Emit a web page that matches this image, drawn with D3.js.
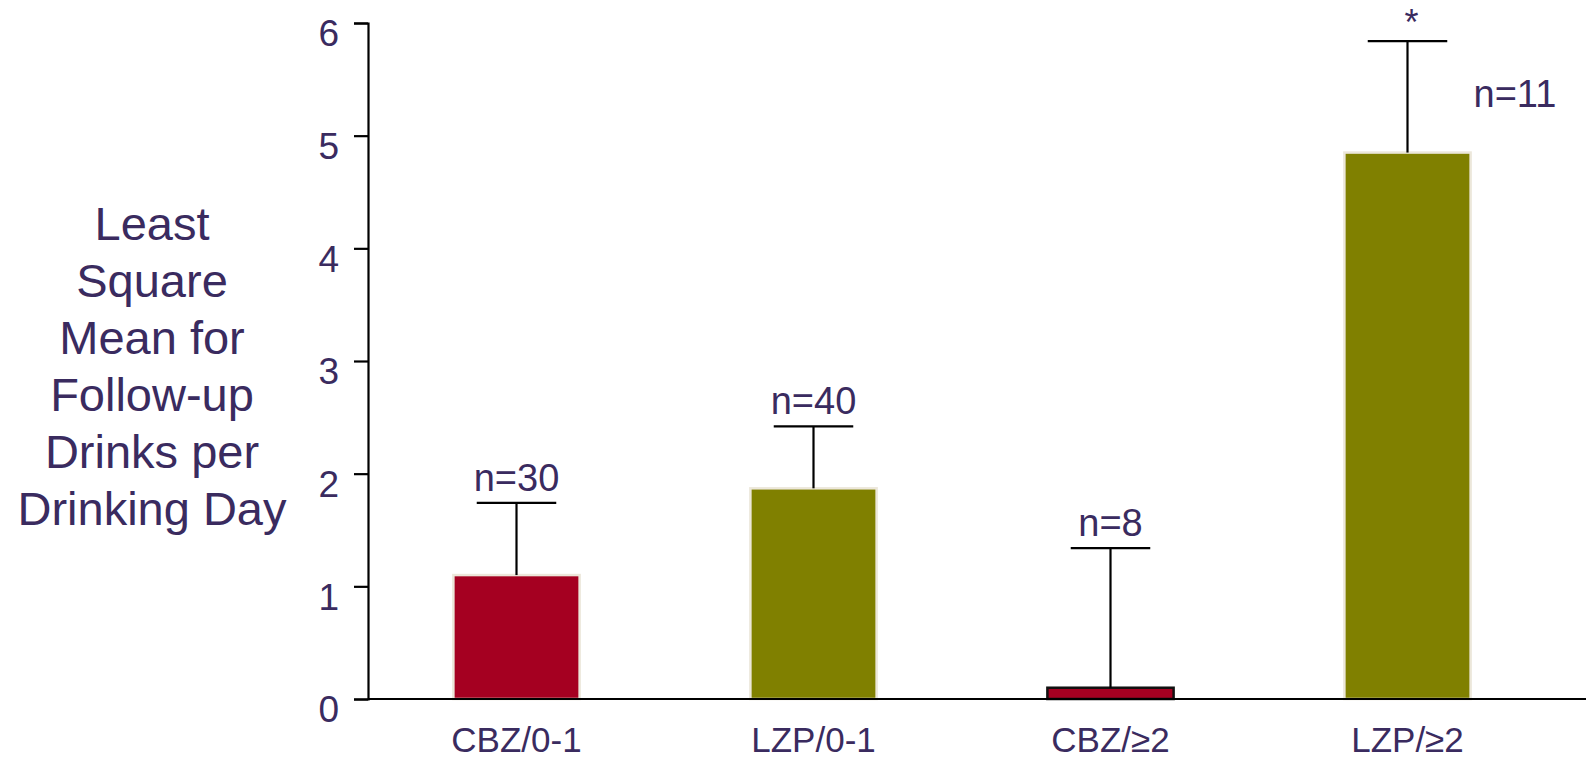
<!DOCTYPE html>
<html>
<head>
<meta charset="utf-8">
<script src="https://cdn.jsdelivr.net/npm/d3@7"></script>
<style>
  html, body { margin: 0; padding: 0; background: #ffffff; }
  svg { display: block; font-family: Arial, "Liberation Sans", sans-serif; }
</style>
</head>
<body>
<svg id="chart" width="1588" height="761"></svg>
<script>
// Groups: drug / number of prior withdrawals
const categories = ["CBZ/0-1", "LZP/0-1", "CBZ/\u22652", "LZP/\u22652"];
// Least square means of follow-up drinks per drinking day
const means = [1.10, 1.87, 0.10, 4.85];
// Upper error bar length (added on top of each mean)
const errors = [0.64, 0.55, 1.24, 0.99];
// Sample size labels
const sampleLabels = ["n=30", "n=40", "n=8", "n=11"];
// Drug of each group (sets the bar colour)
const drugs = ["CBZ", "LZP", "CBZ", "LZP"];
const yTicks = [0, 1, 2, 3, 4, 5, 6];
const yTitleLines = ["Least", "Square", "Mean for", "Follow-up", "Drinks per", "Drinking Day"];

const textColor = "#3a2b5f";
const fillByDrug = { CBZ: "#a50021", LZP: "#808000" };

const svg = d3.select("#chart");

const x = d3.scaleBand()
  .domain(categories)
  .range([368, 1556])
  .paddingInner(0.575)
  .paddingOuter(0.2875);

const y = d3.scaleLinear().domain([0, 6]).range([699, 23]);

// Bars
svg.append("g").selectAll("rect")
  .data(categories)
  .join("rect")
  .attr("x", (d) => x(d))
  .attr("y", (d, i) => y(means[i]))
  .attr("width", x.bandwidth())
  .attr("height", (d, i) => y(0) - y(means[i]))
  .attr("fill", (d, i) => fillByDrug[drugs[i]])
  .attr("stroke", (d, i) => means[i] < 0.5 ? "#111111" : "#ece7da")
  .attr("stroke-width", 2.5);

// Error bars (upper only)
const capHalf = x.bandwidth() * 0.315;
const eb = svg.append("g").attr("stroke", "#000").attr("stroke-width", 2.2);
categories.forEach((c, i) => {
  const cx = x(c) + x.bandwidth() / 2;
  eb.append("line")
    .attr("x1", cx).attr("x2", cx)
    .attr("y1", y(means[i])).attr("y2", y(means[i] + errors[i]));
  eb.append("line")
    .attr("x1", cx - capHalf).attr("x2", cx + capHalf)
    .attr("y1", y(means[i] + errors[i])).attr("y2", y(means[i] + errors[i]));
});

// Sample size labels: above the cap, except the tallest bar where it sits to the right
const labels = svg.append("g")
  .attr("fill", textColor)
  .attr("font-size", 38);
categories.forEach((c, i) => {
  const cx = x(c) + x.bandwidth() / 2;
  const top = y(means[i] + errors[i]);
  if (i === 3) {
    labels.append("text")
      .attr("x", cx + 66).attr("y", 107)
      .text(sampleLabels[i]);
    labels.append("text")
      .attr("x", cx + 4).attr("y", top - 6)
      .attr("font-size", 36)
      .attr("text-anchor", "middle")
      .text("*");
  } else {
    labels.append("text")
      .attr("x", cx).attr("y", top - 12)
      .attr("text-anchor", "middle")
      .text(sampleLabels[i]);
  }
});

// Y axis
const yAxis = svg.append("g")
  .attr("transform", "translate(368,0)")
  .call(d3.axisLeft(y).tickValues(yTicks).tickSize(14).tickPadding(15).tickFormat(d3.format("d")));
yAxis.select(".domain").attr("stroke", "#000").attr("stroke-width", 2.2);
yAxis.selectAll(".tick line").attr("stroke", "#000").attr("stroke-width", 2.2);
yAxis.selectAll(".tick text")
  .attr("fill", textColor)
  .attr("font-size", 37)
  .attr("font-family", "Arial, 'Liberation Sans', sans-serif")
  .attr("dy", "0.62em");

// X axis baseline running to the right edge
svg.append("line")
  .attr("x1", 368).attr("x2", 1586)
  .attr("y1", y(0)).attr("y2", y(0))
  .attr("stroke", "#000").attr("stroke-width", 2.2);

// Category labels
svg.append("g").selectAll("text")
  .data(categories)
  .join("text")
  .attr("x", (d) => x(d) + x.bandwidth() / 2)
  .attr("y", 752)
  .attr("text-anchor", "middle")
  .attr("fill", textColor)
  .attr("font-size", 35)
  .text((d) => d);

// Y axis title, stacked lines
svg.append("text")
  .attr("fill", textColor)
  .attr("font-size", 47)
  .attr("text-anchor", "middle")
  .selectAll("tspan")
  .data(yTitleLines)
  .join("tspan")
  .attr("x", 152)
  .attr("y", (d, i) => 240 + i * 57)
  .text((d) => d);
</script>
</body>
</html>
